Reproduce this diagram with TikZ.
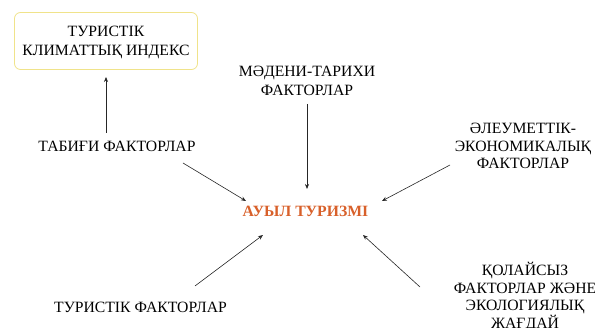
\documentclass[tikz,border=0pt]{standalone}
\usepackage{fontspec}
\setmainfont{Liberation Serif}
\definecolor{boxyellow}{HTML}{F0E38A}
\definecolor{rorange}{HTML}{D8602A}
\usetikzlibrary{arrows.meta}
\tikzset{
  lbl/.style={align=center, font=\fontsize{15.7}{19}\selectfont, inner sep=0pt},
  lblm/.style={align=center, font=\fontsize{15.7}{17.7}\selectfont, inner sep=0pt},
  arr/.style={-{Stealth[length=5pt,width=4pt]}, line width=0.6pt, draw=black!85},
}
\begin{document}
\begin{tikzpicture}[x=1pt,y=-1pt]
\useasboundingbox (0,0) rectangle (595,328);
\node[draw=boxyellow, line width=0.8pt, rounded corners=6pt, minimum width=183pt, minimum height=57pt, inner sep=0pt] (box) at (106,41) {};
\node[lbl] (tki) at (106,42) {ТУРИСТІК\\КЛИМАТТЫҚ ИНДЕКС};
\node[lbl] (tab) at (117,146) {ТАБИҒИ ФАКТОРЛАР};
\node[lbl] (mad) at (307,81) {МӘДЕНИ-ТАРИХИ\\ФАКТОРЛАР};
\node[lblm] (ale) at (523,146) {ӘЛЕУМЕТТІК-\\ЭКОНОМИКАЛЫҚ\\ФАКТОРЛАР};
\node[font=\fontsize{15.7}{19}\selectfont\bfseries, text=rorange, inner sep=0pt] (aut) at (305.5,211) {АУЫЛ ТУРИЗМІ};
\node[lbl] (tur) at (140.5,307) {ТУРИСТІК ФАКТОРЛАР};
\node[lblm] (qol) at (525,297) {ҚОЛАЙСЫЗ\\ФАКТОРЛАР ЖӘНЕ\\ЭКОЛОГИЯЛЫҚ\\ЖАҒДАЙ};
\coordinate (a1s) at (106,133); \coordinate (a1e) at (106,77);
\coordinate (a2s) at (183,163); \coordinate (a2e) at (246,201);
\coordinate (a3s) at (307,104); \coordinate (a3e) at (307,189);
\coordinate (a4s) at (450,165); \coordinate (a4e) at (382,201);
\coordinate (a5s) at (195,286); \coordinate (a5e) at (263,235);
\coordinate (a6s) at (420,287); \coordinate (a6e) at (363,235);
\draw[arr] (a1s) -- (a1e);
\draw[arr] (a2s) -- (a2e);
\draw[arr] (a3s) -- (a3e);
\draw[arr] (a4s) -- (a4e);
\draw[arr] (a5s) -- (a5e);
\draw[arr] (a6s) -- (a6e);
\end{tikzpicture}
\end{document}
